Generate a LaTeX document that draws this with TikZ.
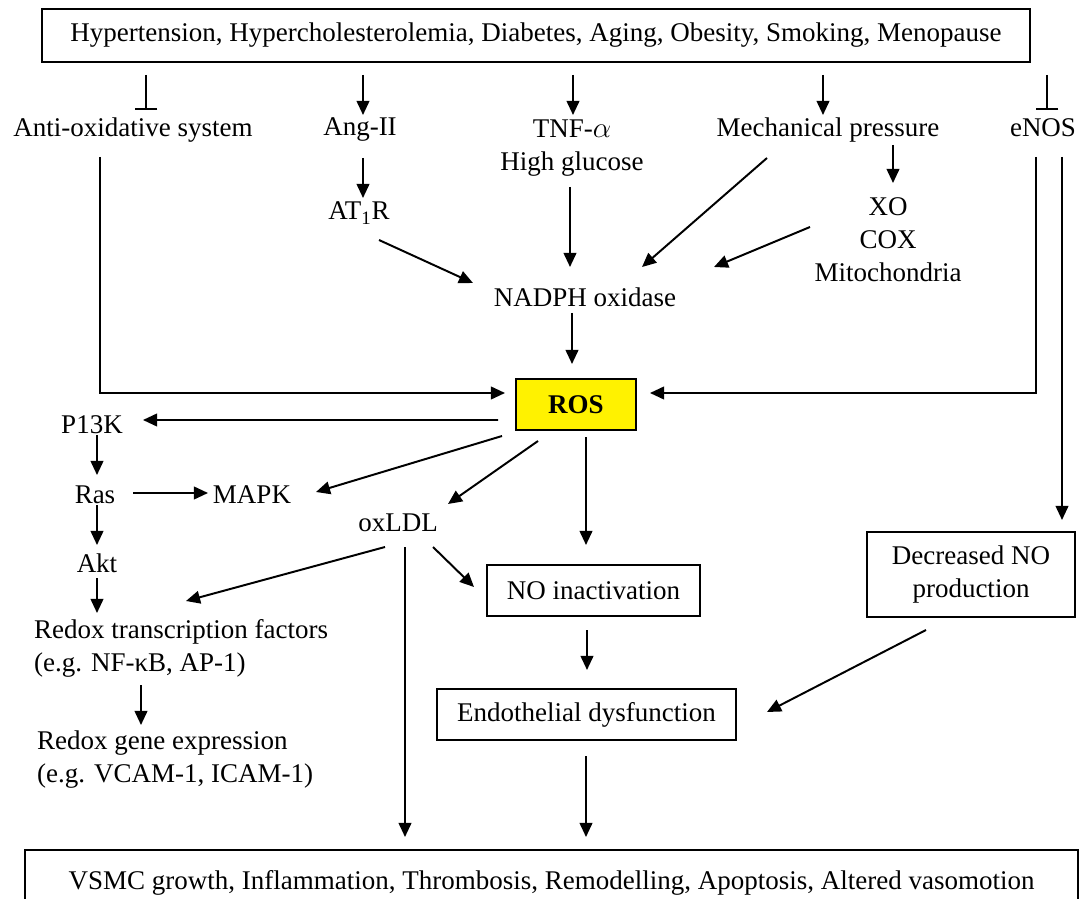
\documentclass[tikz,border=0pt]{standalone}
\usepackage{fontspec}
\setmainfont{Liberation Serif}
\usetikzlibrary{arrows.meta,calc}
\tikzstyle{txt} = [inner sep=2pt, font=\fontsize{19.2pt}{23.5pt}\selectfont, align=center]
\tikzstyle{block} = [draw, rectangle, line width=1.4pt, fill=white, txt]
\tikzstyle{flowArrow} = [line width=1.4pt, -{Triangle[length=10pt,width=9pt]}]
\tikzstyle{stopArrow} = [line width=1.4pt, -{Bar[width=16pt]}]

\begin{document}
\begin{tikzpicture}[x=0.025cm, y=-0.025cm]
		\useasboundingbox (0,0) rectangle (1079,899);
		%blocks
		\node[block, minimum width=24.7cm, minimum height=1.325cm](risk) at (536,35.5){Hypertension, Hypercholesterolemia, Diabetes, Aging, Obesity, Smoking, Menopause};
		\node[txt](antiox) at (133,130){Anti-oxidative system};
		\node[txt](angii) at (360,130){Ang-II};
		\node[txt](tnf) at (572,148){TNF-$\alpha$\\High glucose};
		\node[txt](mech) at (828,130){Mechanical pressure};
		\node[txt](enos) at (1043,128){eNOS};
		\node[txt](atr) at (359,213){AT\textsubscript{1}R};
		\node[txt](xo) at (888,240){XO\\COX\\Mitochondria};
		\node[txt](nadph) at (585,297){NADPH oxidase};
		\node[block, fill=yellow, minimum width=3cm, minimum height=1.275cm, font=\fontsize{19.2pt}{23.5pt}\selectfont\bfseries](ros) at (576,404.5){ROS};
		\node[txt](pik) at (92,425){P13K};
		\node[txt](ras) at (95,495){Ras};
		\node[txt](mapk) at (252,495){MAPK};
		\node[txt](akt) at (97,563){Akt};
		\node[txt](oxldl) at (398,523){oxLDL};
		\node[txt, align=left, anchor=west](redox) at (31,648){Redox transcription factors\\(e.g. NF-κB, AP-1)};
		\node[txt, align=left, anchor=west](gene) at (34,760){Redox gene expression\\(e.g. VCAM-1, ICAM-1)};
		\node[block, minimum width=5.325cm, minimum height=1.275cm](noinact) at (593.5,590.5){NO inactivation};
		\node[block, minimum width=7.475cm, minimum height=1.275cm](endo) at (586.5,714.5){Endothelial dysfunction};
		\node[block, minimum width=5.175cm, minimum height=2.125cm](decno) at (971,574.5){Decreased NO\\production};
		\node[block, minimum width=26.325cm, minimum height=1.65cm](effects) at (551.5,883){VSMC growth, Inflammation, Thrombosis, Remodelling, Apoptosis, Altered vasomotion};
		
		%arrows
		\draw[stopArrow]($(risk)+(-390,39.5)$)--($(antiox)+(13,-20)$);
		\draw[flowArrow]($(risk)+(-173,39.5)$)--($(angii)+(3,-15)$);
		\draw[flowArrow]($(risk)+(37,39.5)$)--($(tnf)+(1,-33)$);
		\draw[flowArrow]($(risk)+(287,39.5)$)--($(mech)+(-5,-15)$);
		\draw[stopArrow]($(risk)+(511,39.5)$)--($(enos)+(4,-18)$);
		\draw[flowArrow]($(angii)+(3,28)$)--($(atr)+(4,-15)$);
		\draw[flowArrow]($(atr)+(20,27)$)--($(nadph)+(-112,-14)$);
		\draw[flowArrow]($(tnf)+(-2,39)$)--($(nadph)+(-15,-30)$);
		\draw[flowArrow]($(mech)+(-61,28)$)--($(nadph)+(57,-30)$);
		\draw[flowArrow]($(mech)+(65,15)$)--($(xo)+(5,-57)$);
		\draw[flowArrow]($(xo)+(-78,-13)$)--($(nadph)+(129,-30)$);
		\draw[flowArrow]($(nadph)+(-13,16)$)--($(ros)+(-4,-40.5)$);
		\draw[flowArrow]($(antiox)+(-33,27)$)|-($(ros)+(-71,-11.5)$);
		\draw[flowArrow]($(enos)+(-7,29)$)|-($(ros)+(74,-11.5)$);
		\draw[flowArrow]($(enos)+(19,29)$)--($(decno)+(91,-54.5)$);
		\draw[flowArrow]($(ros)+(-78,15.5)$)--($(pik)+(51,-5)$);
		\draw[flowArrow]($(pik)+(5,10)$)--($(ras)+(2,-20)$);
		\draw[flowArrow]($(ras)+(2,10)$)--($(akt)+(0,-18)$);
		\draw[flowArrow]($(akt)+(0,15)$)--($(redox.west)+(66,-35)$);
		\draw[flowArrow]($(ras)+(38,-2)$)--($(mapk)+(-44,-2)$);
		\draw[flowArrow]($(ros)+(-74,31.5)$)--($(mapk)+(64,-3)$);
		\draw[flowArrow]($(ros)+(-38,36.5)$)--($(oxldl)+(50,-19)$);
		\draw[flowArrow]($(ros)+(10,32.5)$)--($(noinact)+(-7.5,-45.5)$);
		\draw[flowArrow]($(oxldl)+(35,24)$)--($(noinact)+(-119.5,-3.5)$);
		\draw[flowArrow]($(oxldl)+(-13,24)$)--($(redox.west)+(155,-47)$);
		\draw[flowArrow]($(oxldl)+(7,24)$)--($(effects)+(-146.5,-46)$);
		\draw[flowArrow]($(noinact)+(-6.5,39.5)$)--($(endo)+(0.5,-44.5)$);
		\draw[flowArrow]($(decno)+(-45,55.5)$)--($(endo)+(180.5,-2.5)$);
		\draw[flowArrow]($(endo)+(-0.5,41.5)$)--($(effects)+(34.5,-46)$);
		\draw[flowArrow]($(redox.west)+(110,37)$)--($(gene.west)+(107,-35)$);
	\end{tikzpicture}
\end{document}
